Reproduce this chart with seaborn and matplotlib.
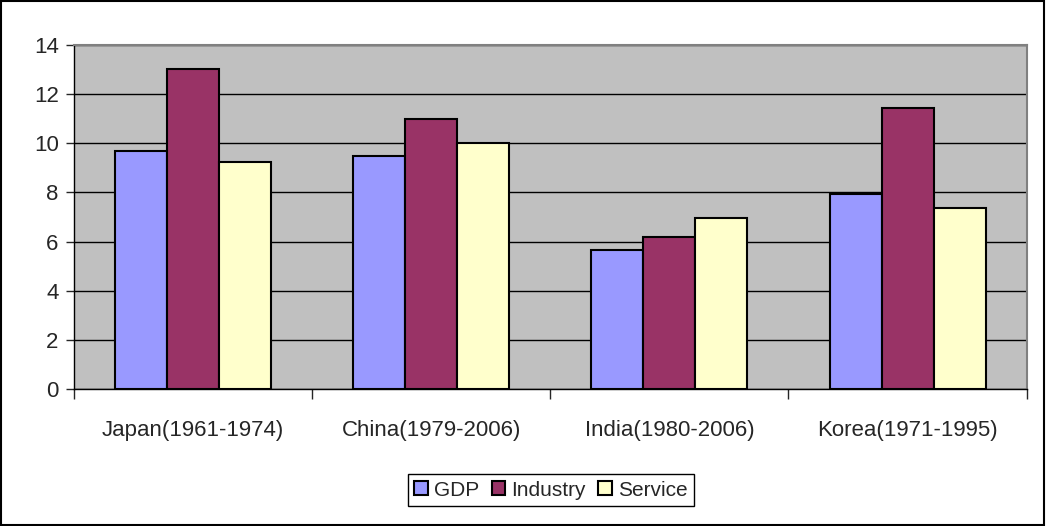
import matplotlib
matplotlib.use("Agg")
import matplotlib.pyplot as plt
import seaborn as sns
import pandas as pd
from matplotlib.patches import Rectangle
from matplotlib.ticker import FixedLocator, NullFormatter

categories = ["Japan(1961-1974)", "China(1979-2006)", "India(1980-2006)", "Korea(1971-1995)"]
series = ["GDP", "Industry", "Service"]
gdp = [9.7, 9.47, 5.66, 7.94]
industry = [13.03, 11.0, 6.2, 11.42]
service = [9.22, 10.02, 6.95, 7.36]
colors = ["#9999FF", "#993366", "#FFFFCC"]

rows = []
for vals, s in zip([gdp, industry, service], series):
    for c, v in zip(categories, vals):
        rows.append({"category": c, "series": s, "value": v})
df = pd.DataFrame(rows)

sns.set_style("white")
plt.rcParams["font.family"] = ["Liberation Sans", "DejaVu Sans"]

fig = plt.figure(figsize=(10.46, 5.26), dpi=100)
ax = fig.add_axes([0.0707, 0.2599, 0.9108, 0.6551])
sns.barplot(data=df, x="category", y="value", hue="series", order=categories,
            hue_order=series, palette=colors, width=0.655, edgecolor="black",
            linewidth=1.5, saturation=1, ax=ax, legend=True)

ax.set_facecolor("#C0C0C0")
ax.set_ylim(0, 14)
ax.set_xlim(-0.5, 3.5)
ax.set_yticks(range(0, 15, 2))
ax.yaxis.grid(True, color="black", linewidth=1)
ax.set_axisbelow(True)
ax.set_xlabel("")
ax.set_ylabel("")
for side in ["top", "right"]:
    ax.spines[side].set_color("#808080")
    ax.spines[side].set_linewidth(1.5)
for side in ["left", "bottom"]:
    ax.spines[side].set_color("black")
    ax.spines[side].set_linewidth(1)
ax.tick_params(axis="y", which="major", length=6, width=1, direction="out",
               labelsize=16, left=True, pad=5)
ax.tick_params(axis="x", which="major", length=0, labelsize=16, pad=22)
ax.xaxis.set_minor_locator(FixedLocator([-0.5, 0.5, 1.5, 2.5, 3.5]))
ax.xaxis.set_minor_formatter(NullFormatter())
ax.tick_params(axis="x", which="minor", length=7, width=1, direction="out", bottom=True)

leg = ax.get_legend()
handles, labels = ax.get_legend_handles_labels()
leg.remove()
lg = fig.legend(handles, labels, loc="center", bbox_to_anchor=(551/1046, 1 - 490/526),
                ncol=3, frameon=True, fancybox=False, edgecolor="black", fontsize=15,
                handlelength=0.65, handleheight=0.65, handletextpad=0.3, columnspacing=0.6,
                borderpad=0.3, framealpha=1)
lg.get_frame().set_linewidth(1)

fig.patches.append(Rectangle((0.001, 0.001), 0.997, 0.997, transform=fig.transFigure,
                             fill=False, edgecolor="black", linewidth=1.5))
fig.savefig("out.png", dpi=100)
